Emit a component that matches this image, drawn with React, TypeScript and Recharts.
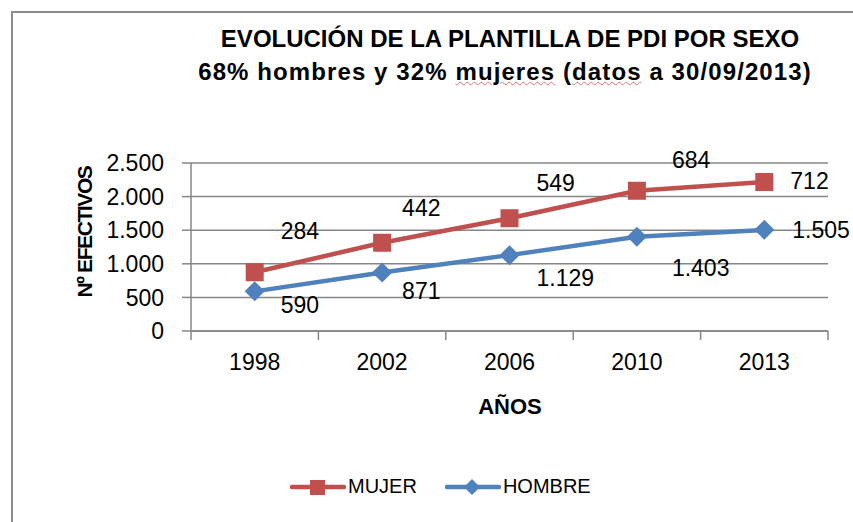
import React from "react";
import { LineChart, Line, XAxis, YAxis, CartesianGrid } from "recharts";

const years = ["1998", "2002", "2006", "2010", "2013"];
const mujer = [284, 442, 549, 684, 712];
const hombre = [590, 871, 1129, 1403, 1505];
const yTicks = [0, 500, 1000, 1500, 2000, 2500];

// label placement relative to the marker (dx to text start, dy to text middle)
const mujerLabelOffset = [[26, -39], [20, -33], [27, -33], [35, -29], [26, 1]];
const hombreLabelOffset = [[26, 16], [20, 20], [27, 25], [35, 33], [28, 2]];

const RED = "#C0504D";
const BLUE = "#4F81BD";
const GRID = "#868686";
const FONT = "'Liberation Sans', Arial, sans-serif";

// stacked lines: MUJER sits on top of HOMBRE
const data = years.map((year, i) => ({
  x: i + 0.5,
  year,
  hombre: hombre[i],
  mujerTotal: hombre[i] + mujer[i],
}));

const xTicks = Array.from({ length: 11 }, (_, i) => i / 2);

const fmt = (v: number) => v.toString().replace(/\B(?=(\d{3})+(?!\d))/g, ".");

const XTick = ({ x, y, payload }: any) => {
  const v = payload.value;
  if (Number.isInteger(v)) {
    return <line x1={x} x2={x} y1={y} y2={y + 9} stroke={GRID} strokeWidth={1.5} />;
  }
  return (
    <text x={x} y={y + 33} textAnchor="middle" dominantBaseline="middle" fontSize={23} fill="#000">
      {years[Math.floor(v)]}
    </text>
  );
};

const SquareDot = (p: any) => {
  const { cx, cy, index } = p;
  const [dx, dy] = mujerLabelOffset[index];
  return (
    <g key={`m-${index}`}>
      <rect x={cx - 9} y={cy - 9} width={18} height={18} fill={RED} />
      <text x={cx + dx} y={cy + dy} dominantBaseline="middle" fontSize={23} fill="#000">
        {fmt(mujer[index])}
      </text>
    </g>
  );
};

const DiamondDot = (p: any) => {
  const { cx, cy, index } = p;
  const [dx, dy] = hombreLabelOffset[index];
  return (
    <g key={`h-${index}`}>
      <polygon points={`${cx},${cy - 10} ${cx + 10},${cy} ${cx},${cy + 10} ${cx - 10},${cy}`} fill={BLUE} />
      <text x={cx + dx} y={cy + dy} dominantBaseline="middle" fontSize={23} fill="#000">
        {fmt(hombre[index])}
      </text>
    </g>
  );
};

const LegendItem = ({ color, label, square }: { color: string; label: string; square: boolean }) => (
  <div style={{ display: "flex", alignItems: "center", marginRight: 28 }}>
    <svg width={56} height={20}>
      <line x1={2} x2={54} y1={10} y2={10} stroke={color} strokeWidth={4.5} strokeLinecap="round" />
      {square ? (
        <rect x={20} y={3} width={15} height={15} fill={color} />
      ) : (
        <polygon points="27,2 35,10 27,18 19,10" fill={color} />
      )}
    </svg>
    <span style={{ fontSize: 20, marginLeft: 2 }}>{label}</span>
  </div>
);

export default function App() {
  return (
    <div style={{ position: "absolute", left: 0, top: 0, width: 853, height: 522, overflow: "hidden", background: "#fff", fontFamily: FONT }}>
      <div style={{ position: "absolute", left: 11, top: 11, width: 900, height: 600, borderLeft: "2px solid #8c8c8c", borderTop: "2px solid #8c8c8c" }} />
      <div style={{ position: "absolute", left: 0, width: 1020, top: 22, textAlign: "center", fontWeight: "bold", fontSize: 24, lineHeight: "33px", color: "#000" }}>
        <div>EVOLUCIÓN DE LA PLANTILLA DE PDI POR SEXO</div>
        <div style={{ letterSpacing: 1.1, marginLeft: -10 }}>
          68% hombres y 32%{" "}
          <span style={{ textDecoration: "underline wavy #e07070", textDecorationThickness: 1 }}>mujeres</span> (
          <span style={{ textDecoration: "underline wavy #e07070", textDecorationThickness: 1 }}>datos</span> a 30/09/2013)
        </div>
      </div>
      <div style={{ position: "absolute", left: 85, top: 232, transform: "translate(-50%, -50%) rotate(-90deg)", whiteSpace: "nowrap", fontWeight: "bold", fontSize: 21, letterSpacing: -1.4 }}>
        Nº EFECTIVOS
      </div>
      <div style={{ position: "absolute", left: 510, top: 407, transform: "translate(-50%, -50%)", fontWeight: "bold", fontSize: 22 }}>
        AÑOS
      </div>
      <LineChart width={853} height={522} data={data} margin={{ top: 163, right: 25, bottom: 151, left: 131 }} style={{ position: "absolute", left: 0, top: 0 }}>
        <CartesianGrid vertical={false} stroke={GRID} strokeWidth={1.5} />
        <XAxis
          dataKey="x"
          type="number"
          domain={[0, 5]}
          ticks={xTicks}
          interval={0}
          height={40}
          tickSize={0}
          tickMargin={0}
          tickLine={false}
          axisLine={{ stroke: GRID, strokeWidth: 1.5 }}
          tick={<XTick />}
        />
        <YAxis
          domain={[0, 2500]}
          ticks={yTicks}
          width={60}
          interval={0}
          tickSize={9}
          tickMargin={18}
          tickFormatter={fmt}
          axisLine={{ stroke: GRID, strokeWidth: 1.5 }}
          tickLine={{ stroke: GRID, strokeWidth: 1.5 }}
          tick={{ fontSize: 23, fill: "#000" }}
        />
        <Line dataKey="mujerTotal" stroke={RED} strokeWidth={4.5} dot={(p: any) => <SquareDot key={`m-${p.index}`} {...p} />} isAnimationActive={false} />
        <Line dataKey="hombre" stroke={BLUE} strokeWidth={4.5} dot={(p: any) => <DiamondDot key={`h-${p.index}`} {...p} />} isAnimationActive={false} />
      </LineChart>
      <div style={{ position: "absolute", left: 290, top: 475, display: "flex", alignItems: "center" }}>
        <LegendItem color={RED} label="MUJER" square />
        <LegendItem color={BLUE} label="HOMBRE" square={false} />
      </div>
    </div>
  );
}
